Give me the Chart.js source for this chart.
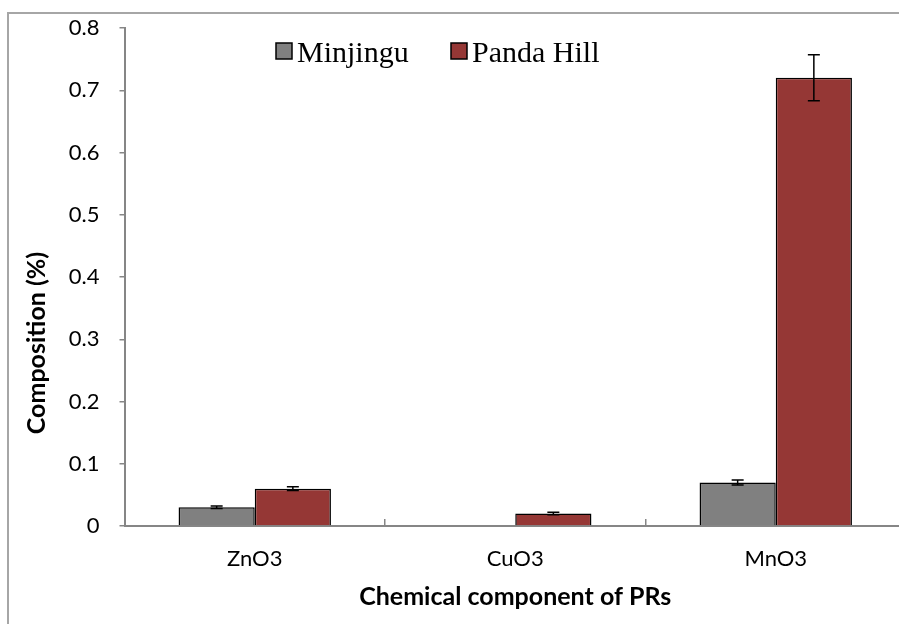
<!DOCTYPE html>
<html lang="en">
<head>
    <meta charset="UTF-8">
    <title>Chemical component of PRs</title>
    <script src="https://cdn.jsdelivr.net/npm/chart.js"></script>
    <style>
        html, body {
            margin: 0;
            padding: 0;
            background: #fff;
            overflow: hidden;
        }
        .page {
            position: absolute;
            left: 0;
            top: 0;
            width: 899px;
            height: 624px;
            overflow: hidden;
        }
        #prChart {
            position: absolute;
            left: 0;
            top: 0;
        }
    </style>
</head>
<body>
    <div class="page">
        <canvas id="prChart" width="920" height="640"></canvas>
    </div>

    <script>
        const categories = ['ZnO3', 'CuO3', 'MnO3'];
        const minjingu = [0.03, null, 0.07];
        const minjinguErr = [0.002, null, 0.004];
        const pandaHill = [0.06, 0.02, 0.72];
        const pandaHillErr = [0.003, 0.002, 0.037];
        const yTickLabels = ['0', '0.1', '0.2', '0.3', '0.4', '0.5', '0.6', '0.7', '0.8'];

        const axisGray = '#868686';
        const tickFont = { family: 'Lato', size: 22 };
        const titleFont = { family: 'Lato', size: 25, weight: 'bold' };

        // outer chart frame, only its left and top edges are inside the picture
        const frame = {
            id: 'frame',
            beforeDraw(chart) {
                const ctx = chart.ctx;
                ctx.save();
                ctx.strokeStyle = '#a6a6a6';
                ctx.lineWidth = 2;
                ctx.beginPath();
                ctx.moveTo(8, chart.height);
                ctx.lineTo(8, 13);
                ctx.lineTo(chart.width, 13);
                ctx.stroke();
                ctx.restore();
            }
        };

        // error bars drawn on top of each bar
        const errorBars = {
            id: 'errorBars',
            afterDatasetsDraw(chart) {
                const ctx = chart.ctx;
                const yScale = chart.scales.y;
                ctx.save();
                ctx.strokeStyle = '#000';
                ctx.lineWidth = 1.5;
                chart.data.datasets.forEach((ds, di) => {
                    const meta = chart.getDatasetMeta(di);
                    meta.data.forEach((bar, i) => {
                        const v = ds.data[i];
                        const e = ds.errors[i];
                        if (v == null || e == null) return;
                        const x = bar.x;
                        const top = yScale.getPixelForValue(v + e);
                        const bot = yScale.getPixelForValue(v - e);
                        ctx.beginPath();
                        ctx.moveTo(x, top); ctx.lineTo(x, bot);
                        ctx.moveTo(x - 6, top); ctx.lineTo(x + 6, top);
                        ctx.moveTo(x - 6, bot); ctx.lineTo(x + 6, bot);
                        ctx.stroke();
                    });
                });
                ctx.restore();
            }
        };

        // legend inside the plot + y title sitting lower than centre, as in the original
        const extras = {
            id: 'extras',
            afterDraw(chart) {
                const ctx = chart.ctx;
                const starts = [276, 451];
                const boxTop = 43;
                ctx.save();
                ctx.font = '30px "Liberation Serif"';
                ctx.textBaseline = 'middle';
                ctx.textAlign = 'left';
                chart.data.datasets.forEach((ds, i) => {
                    const x = starts[i];
                    ctx.fillStyle = ds.backgroundColor;
                    ctx.fillRect(x, boxTop, 16, 16);
                    ctx.strokeStyle = '#000';
                    ctx.lineWidth = 1.5;
                    ctx.strokeRect(x, boxTop, 16, 16);
                    ctx.fillStyle = '#000';
                    ctx.fillText(ds.label, x + 21, boxTop + 11);
                });

                ctx.translate(37, 343);
                ctx.rotate(-Math.PI / 2);
                ctx.textAlign = 'center';
                ctx.font = 'bold 25px Lato';
                ctx.fillText('Composition (%)', 0, 0);
                ctx.restore();
            }
        };

        const ctx = document.getElementById('prChart').getContext('2d');
        new Chart(ctx, {
            type: 'bar',
            data: {
                labels: categories,
                datasets: [
                    {
                        label: 'Minjingu',
                        data: minjingu,
                        errors: minjinguErr,
                        backgroundColor: '#808080',
                        borderColor: '#000',
                        borderWidth: 1.5,
                        categoryPercentage: 0.585,
                        barPercentage: 1.0
                    },
                    {
                        label: 'Panda Hill',
                        data: pandaHill,
                        errors: pandaHillErr,
                        backgroundColor: '#953735',
                        borderColor: '#000',
                        borderWidth: 1.5,
                        categoryPercentage: 0.585,
                        barPercentage: 1.0
                    }
                ]
            },
            options: {
                responsive: false,
                animation: false,
                layout: {
                    // plot runs past the right edge of the picture, like the cropped original
                    padding: { left: 0, right: 14, top: 28, bottom: 0 }
                },
                plugins: {
                    legend: { display: false },
                    tooltip: { enabled: false }
                },
                scales: {
                    x: {
                        afterFit(scale) { scale.height = 114; },
                        grid: {
                            offset: true,
                            drawOnChartArea: false,
                            tickLength: -7,
                            color: axisGray,
                            lineWidth: 1.5
                        },
                        border: { color: axisGray, width: 2 },
                        ticks: { font: tickFont, color: '#000', padding: 27 },
                        title: {
                            display: true,
                            text: 'Chemical component of PRs',
                            font: titleFont,
                            color: '#000',
                            padding: { top: 0, bottom: 28 }
                        }
                    },
                    y: {
                        min: 0,
                        max: 0.8,
                        afterFit(scale) {
                            scale.width = 124.5;
                            // tick padding would otherwise push the plot top down
                            scale.paddingTop = 12;
                            scale.paddingBottom = 12;
                        },
                        ticks: {
                            stepSize: 0.1,
                            font: tickFont,
                            color: '#000',
                            padding: 20,
                            callback: (v, i) => yTickLabels[i]
                        },
                        grid: {
                            drawOnChartArea: false,
                            tickLength: 5,
                            color: axisGray,
                            lineWidth: 1.5
                        },
                        border: { color: axisGray, width: 2 }
                    }
                }
            },
            plugins: [frame, errorBars, extras]
        });
    </script>
</body>
</html>
